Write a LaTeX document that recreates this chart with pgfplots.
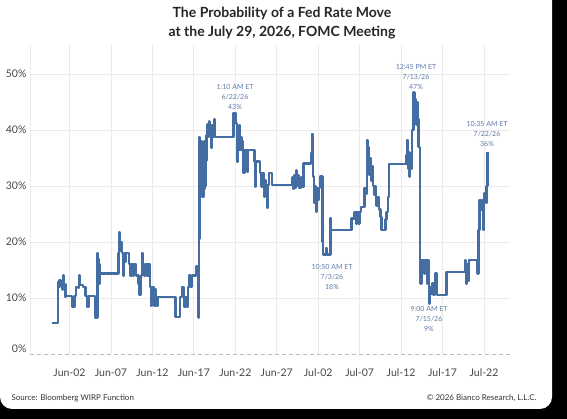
\documentclass[border=0pt]{standalone}
\usepackage{pgfplots}
\pgfplotsset{compat=1.18}
\usepackage{fontspec}
\setmainfont{Lato}
\definecolor{linec}{RGB}{68,110,162}
\definecolor{annot}{RGB}{95,125,168}
\definecolor{gridc}{RGB}{234,234,234}
\definecolor{ticklab}{RGB}{70,70,70}
\begin{document}
\begin{tikzpicture}
\useasboundingbox (0,0) rectangle (567pt,419pt);
\fill[black] (0,0) rectangle (567pt,419pt);
\fill[white, rounded corners=12pt] (0pt,10pt) rectangle (552pt,440pt);
\node[font=\fontsize{14}{19}\selectfont\bfseries, text=black!85, align=center] at (282pt,395.5pt) {The Probability of a Fed Rate Move\\at the July 29, 2026, FOMC Meeting};
\begin{axis}[
 at={(30pt,65pt)}, anchor=south west, scale only axis, width=480pt, height=309pt,
 xmin=-2.765, xmax=55.14, ymin=0, ymax=55.2,
 xtick={2,7,...,52},
 xticklabels={Jun-02,Jun-07,Jun-12,Jun-17,Jun-22,Jun-27,Jul-02,Jul-07,Jul-12,Jul-17,Jul-22},
 ytick={10,20,...,50}, yticklabel={\pgfmathprintnumber{\tick}\%},
 extra y ticks={0}, extra y tick labels={0\%},
 extra y tick style={grid=major, major grid style={dashed, dash pattern=on 4pt off 3pt, gray!55, line width=0.8pt}, yticklabel style={yshift=5pt}},
 extra x ticks={-2.765}, extra x tick labels={},
 extra x tick style={grid=major, major grid style={gridc, line width=0.8pt}},
 grid=major, major grid style={gridc, line width=0.8pt},
 axis line style={draw=none}, tick style={draw=none},
 tick label style={font=\fontsize{10.5}{12}\selectfont, text=ticklab},
 xticklabel style={yshift=-11pt},
 /pgf/number format/assume math mode=true,
 clip=false,
]
\addplot[const plot, linec, line width=2.4pt, line join=round] table {
x y
-0.1 5.5
0.6 12.9
0.7 12.0
0.8 13.2
0.9 12.2
1.0 12.8
1.15 11.5
1.25 14.0
1.35 12.0
1.45 10.2
1.55 12.5
1.6 10.4
2.3 8.4
2.6 10.4
2.8 12.0
3.0 11.8
3.15 14.0
3.3 12.3
3.6 12.0
3.95 10.4
4.1 8.4
4.3 10.4
5.1 6.5
5.4 18.0
5.45 13.0
5.5 17.0
5.55 12.5
5.6 16.0
5.65 14.4
7.9 18.0
8.0 21.7
8.1 18.5
8.2 20.0
8.3 18.0
8.45 14.0
8.55 18.0
8.7 16.5
8.8 18.0
9.2 16.1
9.35 13.9
9.5 16.1
9.65 14.0
9.8 16.1
10.0 14.0
10.3 12.5
10.45 10.5
10.6 14.0
10.75 18.0
10.85 16.1
11.0 14.0
11.15 16.1
11.4 13.9
11.55 16.1
11.7 12.0
11.8 8.6
11.9 12.0
12.0 9.0
12.1 12.0
12.2 8.6
12.3 11.5
12.45 8.6
12.6 10.2
14.8 6.6
15.35 10.2
15.6 12.0
15.75 10.2
15.85 8.4
16.0 10.2
16.2 8.4
16.3 12.0
16.4 14.0
16.6 12.0
16.75 14.0
17.0 14.0
17.25 15.6
17.45 14.0
17.55 6.5
17.62 20.5
17.66 38.8
17.72 28.0
17.8 36.0
17.85 29.0
17.9 38.0
17.95 30.0
18.0 36.0
18.05 28.0
18.15 34.0
18.2 29.5
18.3 38.0
18.35 30.0
18.45 34.6
18.55 39.0
18.65 41.0
18.7 38.8
18.8 41.5
18.9 39.0
19.0 40.9
19.1 36.8
19.2 40.9
19.3 38.8
19.4 41.9
19.55 38.8
21.8 43.0
21.9 41.5
22.0 43.0
22.1 41.2
22.2 34.3
22.3 38.8
22.4 36.5
22.5 40.9
22.55 36.5
22.65 38.8
22.75 36.4
22.85 38.0
22.95 36.4
23.0 32.3
23.1 36.4
23.2 33.0
23.3 36.4
23.45 32.5
23.55 36.4
24.3 34.4
24.4 29.9
24.5 34.4
25.0 32.3
25.15 29.9
25.3 32.3
25.45 28.0
25.55 31.0
25.7 30.2
25.8 26.1
25.9 30.2
26.1 32.3
26.4 30.2
28.9 31.5
29.0 29.5
29.1 31.9
29.2 29.6
29.3 32.8
29.4 30.0
29.6 31.9
29.7 29.6
29.9 31.5
30.1 29.8
30.25 34.0
31.15 35.9
31.25 39.3
31.4 31.7
31.5 27.0
31.6 30.0
31.7 25.4
31.8 29.6
31.95 27.5
32.1 29.6
32.2 31.7
32.5 20.0
32.6 17.8
32.95 18.9
33.05 17.8
33.5 24.3
33.55 22.1
36.0 24.2
36.4 25.4
36.55 23.3
36.7 25.4
36.85 23.3
37.0 25.4
37.2 26.3
37.6 29.6
37.75 28.7
37.9 38.2
37.97 33.0
38.05 37.0
38.15 32.0
38.25 35.0
38.35 31.0
38.5 33.5
38.6 30.0
38.75 28.5
38.85 30.0
39.0 26.5
39.15 28.0
39.3 25.8
39.5 24.5
39.65 22.1
40.1 24.0
40.25 25.4
40.4 28.0
40.55 33.9
42.65 35.5
42.7 38.2
42.8 33.0
42.9 36.0
43.0 31.7
43.1 35.0
43.2 33.0
43.35 40.0
43.5 46.7
43.6 42.0
43.7 45.6
43.8 41.0
43.9 45.0
44.0 42.0
44.1 37.0
44.25 16.8
44.35 12.6
44.45 16.8
44.8 14.4
44.9 16.8
45.1 12.6
45.2 16.8
45.3 12.6
45.37 9.0
45.45 12.0
45.6 10.8
45.75 12.6
45.9 10.5
46.1 14.4
46.3 10.5
47.5 14.7
49.75 16.8
49.85 12.6
49.95 16.0
50.05 13.0
50.2 16.8
51.2 14.4
51.35 22.1
51.45 27.5
51.6 25.8
51.75 27.5
51.9 22.1
52.0 28.7
52.25 27.0
52.3 30.0
52.44 36.0
};
\end{axis}
\begin{scope}[every node/.style={font=\fontsize{7}{9.7}\selectfont, text=annot, align=center}]
\node at (235pt,322pt) {1:10 AM ET\\6/22/26\\43\%};
\node at (332pt,142pt) {10:50 AM ET\\7/3/26\\18\%};
\node at (416pt,342pt) {12:45 PM ET\\7/13/26\\47\%};
\node at (429pt,100pt) {9:00 AM ET\\7/15/26\\9\%};
\node at (487pt,285pt) {10:35 AM ET\\7/22/26\\36\%};
\end{scope}
\node[anchor=west, font=\fontsize{8}{9}\selectfont, text=black!80] at (8pt,21pt) {Source: Bloomberg WIRP Function};
\node[anchor=east, font=\fontsize{8}{9}\selectfont, text=black!80] at (540pt,21pt) {\textcopyright{} 2026 Bianco Research, L.L.C.};
\end{tikzpicture}
\end{document}
